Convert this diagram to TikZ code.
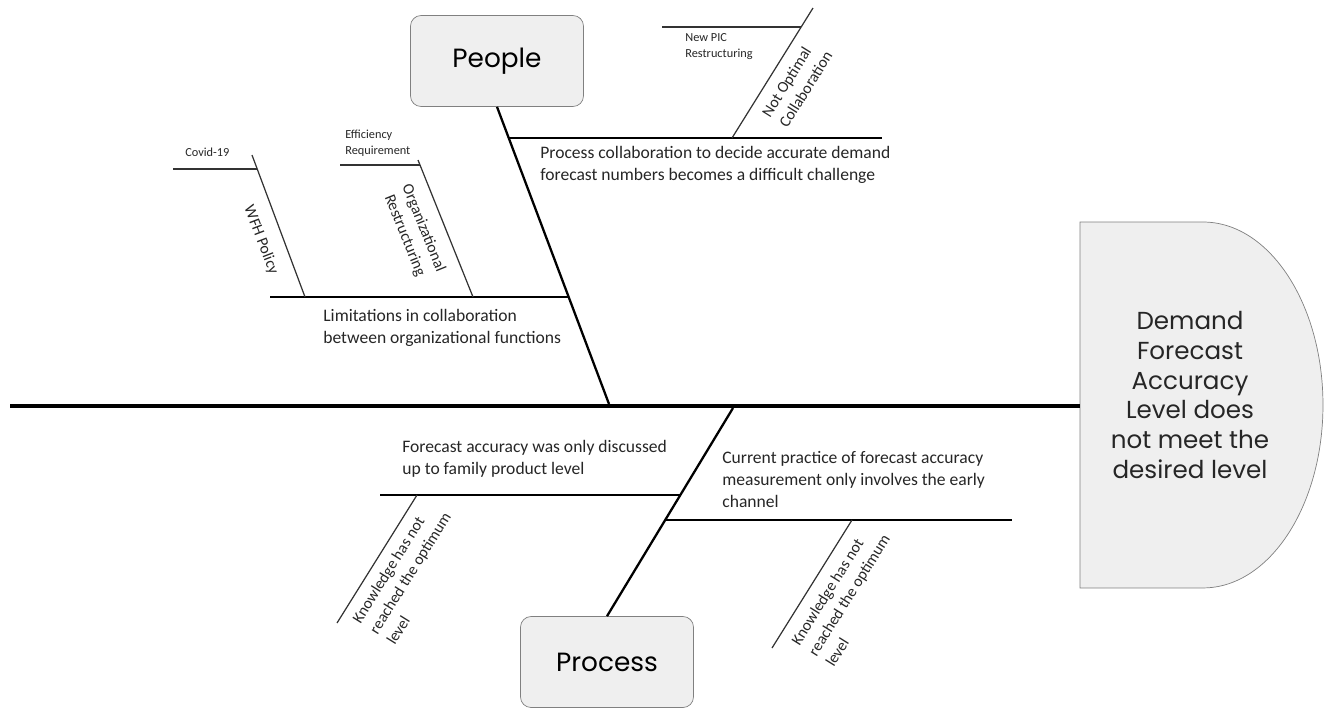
\documentclass[tikz,border=0pt]{standalone}
\usepackage{fontspec}
\setmainfont{Carlito}
\newfontfamily\bigfont{Poppins}
\usepackage{tikz}
\usetikzlibrary{calc}

\definecolor{boxgray}{HTML}{EFEFEF}
\tikzset{
	spine/.style={line width=2.8pt},
	bone/.style={line width=1.3pt},
	branch/.style={line width=1.6pt},
	twig/.style={line width=0.7pt, black!80},
	catbox/.style={draw=black!50, fill=boxgray, rounded corners=6pt, minimum width=3.46cm, minimum height=1.82cm, font=\bigfont\fontsize{15}{18}\selectfont},
	cause/.style={anchor=north west, inner sep=0pt, align=left, text=black!85, font=\fontsize{10}{12.5}\selectfont},
	subcause/.style={inner sep=0pt, align=left, text=black!85, font=\fontsize{9}{11.5}\selectfont},
	detail/.style={inner sep=0pt, align=left, text=black!85, font=\fontsize{7}{9}\selectfont}
}

\begin{document}
\begin{tikzpicture}[x=0.02cm, y=-0.02cm]
			\useasboundingbox (0,0) rectangle (1325,708);

			\draw [draw=black!50, fill=boxgray] (1080,222) -- (1203,222) arc (90:-90:2.4cm and 3.66cm) -- (1080,588) -- cycle;
			\node [align=center, font=\bigfont\fontsize{14}{17}\selectfont, text=black!85] (effect) at (1190,395) {Demand\\Forecast\\Accuracy\\Level does\\not meet the\\desired level};
			\coordinate (tail) at (10,406);
			\coordinate (head) at (1080,406);
			\draw [spine] (tail) to (head);

			\node [catbox] (people) at (497,61) {People};
			\node [catbox] (process) at (607,662) {Process};
			\coordinate (pjoin) at (609,404);
			\coordinate (qjoin) at (733,408);
			\draw [bone] (people.south) to (pjoin);
			\draw [bone] (qjoin) to (process.north);

			\coordinate (b1a) at (509,138);
			\coordinate (b1b) at (882,138);
			\coordinate (b2a) at (270,297);
			\coordinate (b2b) at (569,297);
			\coordinate (b3a) at (380,495);
			\coordinate (b3b) at (681,495);
			\coordinate (b4a) at (665,520);
			\coordinate (b4b) at (1012,520);
			\draw [branch] (b1a) to (b1b);
			\draw [branch] (b2a) to (b2b);
			\draw [branch] (b3a) to (b3b);
			\draw [branch] (b4a) to (b4b);

			\node [cause] (c1) at (540,146) {Process collaboration to decide accurate demand\\forecast numbers becomes a difficult challenge};
			\node [cause] (c2) at (323,309) {Limitations in collaboration\\between organizational functions};
			\node [cause] (c3) at (402,440) {Forecast accuracy was only discussed\\up to family product level};
			\node [cause] (c4) at (722,451) {Current practice of forecast accuracy\\measurement only involves the early\\channel};

			\coordinate (s1a) at (732,138);
			\coordinate (s1b) at (813,8);
			\coordinate (s2a) at (305,297);
			\coordinate (s2b) at (252,155);
			\coordinate (s3a) at (473,297);
			\coordinate (s3b) at (418,160);
			\coordinate (s4a) at (417,495);
			\coordinate (s4b) at (337,623);
			\coordinate (s5a) at (852,520);
			\coordinate (s5b) at (772,648);
			\draw [twig] (s1a) to (s1b);
			\draw [twig] (s2a) to (s2b);
			\draw [twig] (s3a) to (s3b);
			\draw [twig] (s4a) to (s4b);
			\draw [twig] (s5a) to (s5b);

			\node [subcause, rotate=58] (r1) at (797,84) {Not Optimal\\Collaboration};
			\node [subcause, rotate=-69] (r2) at (261,240) {WFH Policy};
			\node [subcause, rotate=-68, align=center] (r3) at (414,232) {Organizational\\Restructuring};
			\node [subcause, rotate=58] (r4) at (410,573) {Knowledge has not\\reached the optimum\\level};
			\node [subcause, rotate=58] (r5) at (849,595) {Knowledge has not\\reached the optimum\\level};

			\coordinate (t1a) at (662,27);
			\coordinate (t1b) at (801,27);
			\coordinate (t2a) at (173,169);
			\coordinate (t2b) at (257,169);
			\coordinate (t3a) at (340,165);
			\coordinate (t3b) at (420,165);
			\draw [twig] (t1a) to (t1b);
			\draw [twig] (t2a) to (t2b);
			\draw [twig] (t3a) to (t3b);

			\node [detail, anchor=north west] (d1) at (685,33) {New PIC\\Restructuring};
			\node [detail, anchor=west] (d2) at (185,152) {Covid-19};
			\node [detail, anchor=north west] (d3) at (345,130) {Efficiency\\Requirement};
		\end{tikzpicture}
\end{document}
